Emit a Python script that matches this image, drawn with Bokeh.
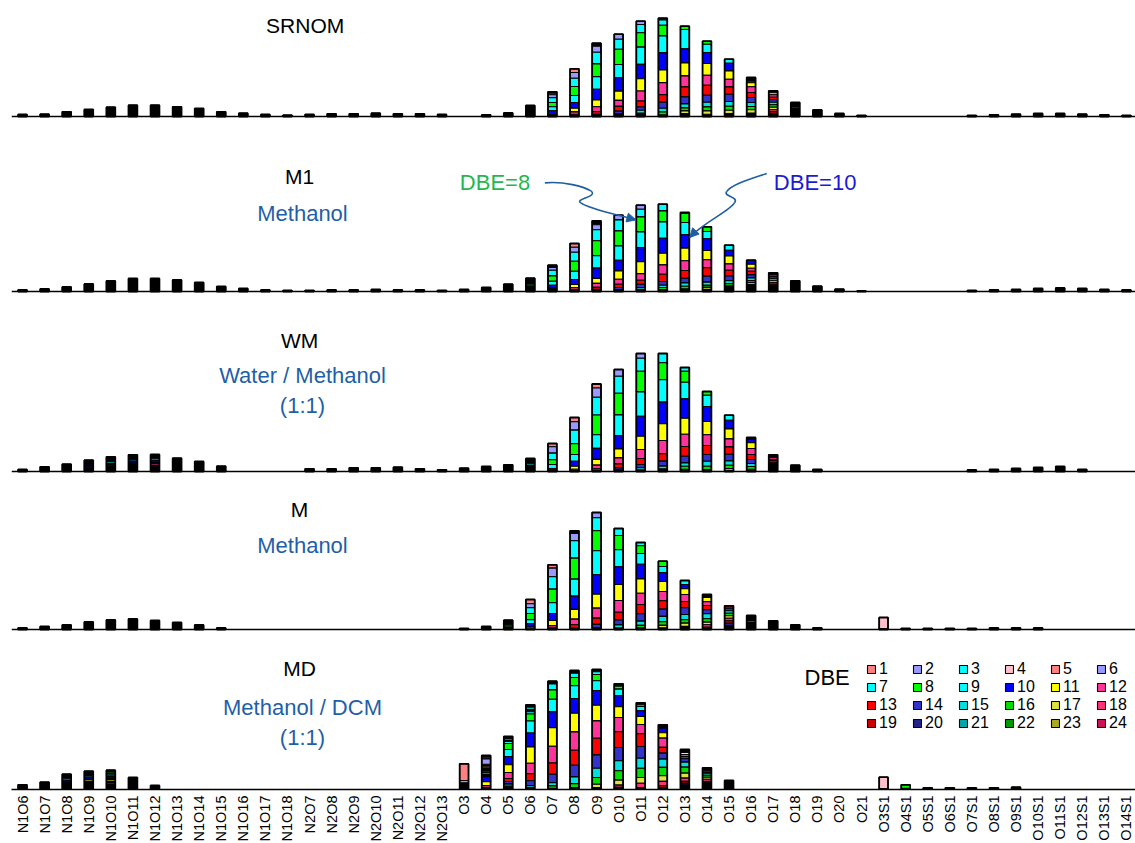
import math
from bokeh.plotting import figure
from bokeh.models import (Range1d, ColumnDataSource, Label, Span, FixedTicker,
                          Legend, LegendItem, Arrow, NormalHead)
from bokeh.layouts import column
from bokeh.embed import file_html
from bokeh.resources import INLINE

# ---------------- data ----------------
CATEGORIES = ["N1O6", "N1O7", "N1O8", "N1O9", "N1O10", "N1O11", "N1O12", "N1O13", "N1O14",
              "N1O15", "N1O16", "N1O17", "N1O18",
              "N2O7", "N2O8", "N2O9", "N2O10", "N2O11", "N2O12", "N2O13",
              "O3", "O4", "O5", "O6", "O7", "O8", "O9", "O10", "O11", "O12", "O13", "O14",
              "O15", "O16", "O17", "O18", "O19", "O20", "O21",
              "O3S1", "O4S1", "O5S1", "O6S1", "O7S1", "O8S1", "O9S1", "O10S1", "O11S1",
              "O12S1", "O13S1", "O14S1"]

# DBE class colours (0 = minor / unresolved classes, drawn black)
DBE_COLORS = {0: "#000000",
              1: "#ff8080", 2: "#9999ff", 3: "#00ffff", 4: "#ffc0cb", 5: "#ff8080", 6: "#9999ff",
              7: "#00ffff", 8: "#00ff00", 9: "#00ffff", 10: "#0000ff", 11: "#ffff00", 12: "#ff3399",
              13: "#ff0000", 14: "#3333cc", 15: "#00e0e0", 16: "#00dd00", 17: "#e0e040", 18: "#ff3377",
              19: "#cc0000", 20: "#222288", 21: "#00a8a8", 22: "#009900", 23: "#aaaa22", 24: "#cc1155"}

# total relative abundance per class (same order as CATEGORIES)
SRNOM_TOTAL = [2, 2.3, 4.7, 7, 9.3, 11.3, 11.3, 9.7, 8, 4.7, 3.3, 2, 1.3,
               2, 2.7, 2.7, 3.3, 2.7, 2.7, 2,
               0, 1.5, 3.5, 11, 24.7, 47.7, 73.3, 82.3, 95.3, 98.3, 90.3, 75.3, 57.3, 39, 25.7,
               14, 6.5, 3, 1,
               0, 0, 0, 0, 1, 1.7, 2.3, 3, 3, 2.3, 1.7, 1]
M1_TOTAL = [1.5, 2.5, 4.5, 7.5, 10.5, 13, 13, 11.5, 9, 5, 3, 1.5, 1,
            1, 1.5, 1.5, 2, 1.5, 1.5, 1,
            2, 4, 7.3, 13.3, 26.3, 48, 70.7, 76.3, 86.3, 87.3, 79, 64.7, 46.3, 31.3, 18.7,
            10.7, 5.3, 2.3, 0.5,
            0, 0, 0, 0, 1, 1.5, 2, 3, 3.5, 3, 2, 1.5]
WM_TOTAL = [2, 4.7, 7.3, 11.3, 14.7, 16.7, 17, 13.3, 10, 5.3, 0, 0, 0,
            2.7, 2.7, 3.7, 3.7, 4.3, 2.7, 1.7,
            3.3, 5, 6.7, 13, 28, 54, 87.5, 102, 118, 118, 104, 80, 56.3, 34, 16.7,
            6.3, 2, 0, 0,
            0, 0, 0, 0, 1.5, 2, 3, 4, 5, 2, 0, 0]
M_TOTAL = [1.5, 3, 4.5, 7.5, 9.5, 10.5, 9, 7, 4.5, 1.5, 0, 0, 0,
           0, 0, 0, 0, 0, 0, 0,
           1, 3, 9.3, 30, 64.7, 98.7, 117, 101, 87, 68.3, 49, 35, 23.7, 14, 8.7,
           4.7, 1.5, 0, 0,
           12, 1, 1, 1, 1, 1.5, 1.5, 1.5, 0, 0, 0, 0]
MD_TOTAL = [4.7, 7.3, 15.3, 18.3, 19.3, 12, 4, 0, 0, 0, 0, 0, 0,
            0, 0, 0, 0, 0, 0, 0,
            25.7, 34, 53, 84.7, 108.3, 119, 120, 105.7, 86.7, 64.7, 40, 21.7, 9, 0, 0,
            0, 0, 0, 0,
            12.3, 4.7, 1.7, 1.7, 1.7, 1.7, 2.3, 0, 0, 0, 0, 0]

# DBE composition (DBE, abundance), listed top -> bottom of each bar
SRNOM_DBE = {
    "O7": [(0, 1.5), (5, 1.5), (6, 3), (7, 4.7), (8, 4.3), (9, 4), (10, 3.7)],
    "O8": [(5, 3.7), (6, 5.7), (7, 8.3), (8, 9), (9, 7), (10, 5.7), (11, 3.7), (12, 2.3)],
    "O9": [(0, 3), (6, 6), (7, 11.7), (8, 12.7), (9, 12.7), (10, 10.7), (11, 6.7), (12, 5), (13, 2.7)],
    "O10": [(6, 5), (7, 10), (8, 15.3), (9, 13.3), (10, 13.3), (11, 9.3), (12, 6), (13, 4.7), (14, 2.7)],
    "O11": [(6, 3.3), (7, 8.3), (8, 14.3), (9, 17.3), (10, 14.3), (11, 12.3), (12, 10), (13, 6),
            (14, 3.3), (15, 2.7)],
    "O12": [(6, 1.7), (7, 5.3), (8, 10.7), (9, 16.7), (10, 17.3), (11, 12.7), (12, 12), (13, 7.7),
            (14, 6), (15, 3.7), (16, 2.7)],
    "O13": [(8, 3.3), (9, 19.4), (10, 14), (11, 13), (12, 11), (13, 10), (14, 7), (15, 4), (16, 3),
            (17, 2.7)],
    "O14": [(8, 3), (9, 8.3), (10, 11), (11, 11.7), (12, 10), (13, 10), (14, 7), (15, 4.7), (16, 4),
            (17, 3.3)],
    "O15": [(9, 4), (10, 7.7), (11, 8.3), (12, 7.7), (13, 7.3), (14, 7.3), (15, 4.7), (16, 4), (17, 3.3)],
    "O16": [(0, 3), (10, 2.3), (11, 4), (12, 5.7), (13, 5), (14, 5), (15, 4), (16, 3.3), (17, 3.3)],
    "O17": [(0, 2), (11, 2), (12, 2.5), (13, 2.5), (14, 2.5), (15, 2.5), (16, 2.5), (17, 2.5),
            (18, 2), (19, 2)],
    "O18": [(0, 4), (14, 1.5)],
}
M1_DBE = {
    "O6": [(0, 6), (8, 1.5)],
    "O7": [(0, 2.3), (6, 2.7), (7, 5.7), (8, 5.3), (9, 4), (10, 2.7)],
    "O8": [(5, 3.7), (6, 5), (7, 9), (8, 10), (9, 8.3), (10, 5), (11, 3.3), (12, 2)],
    "O9": [(0, 4), (6, 5), (7, 11), (8, 15), (9, 12.3), (10, 10.3), (11, 5), (12, 4), (13, 2)],
    "O10": [(6, 4.7), (7, 11), (8, 15), (9, 14.3), (10, 10.7), (11, 8.3), (12, 5), (13, 3.3), (14, 2)],
    "O11": [(6, 4), (7, 7.7), (8, 15), (9, 15.7), (10, 14), (11, 12), (12, 6.7), (13, 4), (14, 3.3),
            (15, 2)],
    "O12": [(7, 6.7), (8, 11), (9, 16.3), (10, 15), (11, 11.7), (12, 9.3), (13, 7.3), (14, 3.7),
            (15, 2.3), (16, 2)],
    "O13": [(0, 1), (8, 9), (9, 12.3), (10, 13.3), (11, 12.7), (12, 9.7), (13, 7.7), (14, 4.7),
            (15, 3.3), (16, 2.7)],
    "O14": [(8, 4.7), (9, 7.3), (10, 11.7), (11, 9.3), (12, 8), (13, 8.3), (14, 6), (15, 3.3),
            (16, 2), (17, 2)],
    "O15": [(9, 5), (10, 5.7), (11, 8), (12, 6.3), (13, 5.7), (14, 4.7), (15, 3), (16, 2.3)],
    "O16": [(10, 4), (11, 4), (12, 3), (13, 3.7), (14, 3), (15, 2.7), (16, 2), (17, 2)],
    "O17": [(0, 2), (13, 2), (14, 2), (15, 2), (17, 2), (19, 2)],
}
WM_DBE = {
    "N1O9": [(0, 6), (10, 1.5)],
    "N1O10": [(0, 4.7), (9, 1.5), (0, 1.5), (10, 1.5)],
    "N1O11": [(0, 5.3), (9, 1.5), (10, 1.5)],
    "N1O12": [(0, 4.3), (9, 1.5), (0, 0.5), (10, 1.5), (0, 1.7), (12, 1.5)],
    "O6": [(0, 4), (14, 1.5), (15, 1.5)],
    "O7": [(5, 3.3), (6, 6.3), (7, 6.7), (8, 4.7), (9, 4), (10, 1.7)],
    "O8": [(5, 4.3), (6, 8.3), (7, 13.7), (8, 10.7), (9, 6.7), (10, 5), (11, 3), (12, 1.3)],
    "O9": [(5, 4), (6, 9.3), (7, 17.7), (8, 19.7), (9, 13.7), (10, 11), (11, 5.7), (12, 3.7), (13, 1.7)],
    "O10": [(6, 6.7), (7, 17), (8, 21.7), (9, 20.7), (10, 13.3), (11, 9), (12, 6), (13, 4), (14, 2)],
    "O11": [(6, 4.7), (7, 13), (8, 20.7), (9, 24.3), (10, 20), (11, 13.3), (12, 9), (13, 6), (14, 3.3),
            (15, 2)],
    "O12": [(7, 9.3), (8, 17), (9, 22.3), (10, 21.7), (11, 16.7), (12, 13.3), (13, 7.3), (14, 5),
            (15, 2.7)],
    "O13": [(7, 3.7), (8, 11), (9, 16.7), (10, 19.3), (11, 16), (12, 12.3), (13, 9.7), (14, 6.7),
            (15, 3.3), (16, 3)],
    "O14": [(8, 3.7), (9, 11.3), (10, 15), (11, 13.3), (12, 10.7), (13, 9), (14, 6.7), (15, 5), (16, 3.3)],
    "O15": [(9, 5), (10, 8.7), (11, 10), (12, 8), (13, 7.3), (14, 6.7), (15, 4.3), (16, 3.3), (17, 1.7)],
    "O16": [(0, 2), (10, 3.3), (11, 5.7), (12, 6), (13, 5), (14, 4), (15, 3), (16, 2.7)],
    "O17": [(0, 3), (12, 2), (0, 1), (19, 2)],
}
M_DBE = {
    "O5": [(0, 5), (8, 1.5)],
    "O6": [(5, 4.3), (6, 4), (7, 5.7), (8, 6.3), (9, 4), (10, 3.3), (11, 1.7)],
    "O7": [(5, 3.3), (6, 8.7), (7, 12.3), (8, 13.7), (9, 10.7), (10, 7), (11, 5.3), (12, 2)],
    "O8": [(0, 2.7), (6, 7.3), (7, 17.3), (8, 21), (9, 17), (10, 13.3), (11, 9.7), (12, 5.7), (13, 3.3)],
    "O9": [(6, 5.3), (7, 13), (8, 20), (9, 24), (10, 19.3), (11, 14), (12, 10), (13, 6.3), (14, 3.3)],
    "O10": [(7, 7), (8, 14.3), (9, 17), (10, 17.7), (11, 16), (12, 11.7), (13, 7.7), (14, 5), (15, 3)],
    "O11": [(7, 3.3), (8, 7.7), (9, 10.7), (10, 14.7), (11, 14.3), (12, 11.3), (13, 9.3), (14, 7.3),
            (15, 4.3), (16, 2.3)],
    "O12": [(8, 5.3), (9, 6), (10, 9), (11, 10), (12, 9.3), (13, 8.3), (14, 7.3), (15, 5.3), (16, 3.7),
            (17, 2.3)],
    "O13": [(9, 4), (10, 4.3), (11, 5.7), (12, 7), (13, 6.3), (14, 6.7), (15, 5.3), (16, 3.3), (17, 3.3)],
    "O14": [(0, 3), (11, 4.3), (12, 3.7), (13, 4.3), (14, 4), (15, 5), (16, 3.3), (17, 2.7), (18, 2.3)],
    "O15": [(13, 2.5), (14, 2.5), (15, 2.5), (16, 2.5), (17, 2.5), (18, 2.5), (19, 2.5), (20, 2.5)],
    "O16": [(0, 5), (16, 1.5)],
    "O3S1": [(4, 11)],
}
MD_DBE = {
    "N1O8": [(0, 4.5), (9, 1.5), (10, 1.5)],
    "N1O9": [(0, 5), (9, 1.5), (10, 1.5), (0, 0.8), (11, 1.5)],
    "N1O10": [(0, 1.7), (8, 1.5), (0, 0.8), (9, 1.5), (0, 0.8), (10, 1.5), (0, 1.5), (11, 1.5),
              (0, 2), (13, 1.5)],
    "O3": [(1, 16.7), (2, 2.3)],
    "O4": [(0, 1.7), (5, 1.7), (6, 5.3), (0, 2), (5, 1.7), (0, 3.3), (8, 1.7), (9, 1.7), (0, 2),
           (10, 5), (11, 4), (12, 2)],
    "O5": [(0, 2), (3, 1.5), (0, 1.5), (7, 2), (8, 6), (9, 7), (10, 8.3), (11, 7.7), (12, 6), (13, 3),
           (14, 2), (15, 1.5), (16, 1.5)],
    "O6": [(0, 2.3), (3, 2.3), (0, 2.3), (7, 2.3), (8, 7), (9, 12), (10, 14), (11, 16.3), (12, 10.3),
           (13, 7), (14, 5), (15, 2)],
    "O7": [(0, 2.7), (7, 6), (8, 9.3), (9, 12.7), (10, 15.7), (11, 18.7), (12, 16.7), (13, 11.3),
           (14, 8.3), (15, 3.3), (16, 2.3)],
    "O8": [(0, 2.7), (7, 4.3), (8, 8.3), (9, 12.7), (10, 14.7), (11, 18.7), (12, 18.3), (13, 15),
           (14, 11.7), (15, 6.7), (16, 4)],
    "O9": [(0, 2.3), (7, 2.7), (8, 6.3), (9, 9.7), (10, 14.7), (11, 15.7), (12, 17.3), (13, 16.7),
           (14, 13.3), (15, 9.3), (16, 6.7), (17, 3.3), (21, 1)],
    "O10": [(0, 2.3), (8, 3), (9, 6.7), (10, 11), (11, 10.7), (12, 14.3), (13, 15.7), (14, 13.3),
            (15, 10), (16, 9.3), (17, 5), (18, 2.3), (22, 1)],
    "O11": [(0, 2), (8, 1.7), (9, 4.3), (10, 5.7), (11, 8), (12, 9.3), (13, 12.7), (14, 11.7),
            (15, 10), (16, 9.3), (17, 5.7), (18, 4.3), (23, 1)],
    "O12": [(0, 3.3), (10, 4.7), (11, 5.3), (12, 9.3), (13, 5.7), (14, 6), (15, 8.3), (16, 8.3),
            (17, 5.7), (18, 4.3), (19, 2), (24, 1)],
    "O13": [(0, 3), (11, 2), (12, 2), (13, 2.3), (14, 3.3), (15, 5), (16, 6), (17, 5), (18, 3.3),
            (19, 2), (20, 1.5)],
    "O14": [(0, 3), (13, 1.5), (0, 1), (15, 2), (16, 2), (17, 2), (18, 2), (0, 1)],
    "O3S1": [(4, 11.3)],
    "O4S1": [(8, 3.5)],
}

# ---------------- styling ----------------
FONT = "Liberation Sans"
BLUE_TEXT = "#1f5fa8"
ARROW_C = "#1f5f9f"
BAR_W = 0.40
PX_PER_X = 22.08          # pixels per category (for arrow shapes only)

x_range = Range1d(-0.5, 50.41)


def build_segments(total, stacks):
    segs = {d: {"x": [], "bottom": [], "top": []} for d in range(25)}
    outline = {"x": [], "top": []}
    for i, cat in enumerate(CATEGORIES):
        t = total[i]
        st = stacks.get(cat, [])
        s = sum(h for _, h in st)
        if t <= 0 and s <= 0:
            continue
        rem = t - s
        y = 0.0
        if rem > 0.05:
            segs[0]["x"].append(i)
            segs[0]["bottom"].append(0.0)
            segs[0]["top"].append(rem)
            y = rem
        for d, h in reversed(st):
            segs[d]["x"].append(i)
            segs[d]["bottom"].append(y)
            segs[d]["top"].append(y + h)
            y += h
        outline["x"].append(i)
        outline["top"].append(y)
    return segs, outline


def make_panel(total, stacks, y0, y1, axis=False):
    p = figure(frame_width=1124, frame_height=int(round(y1 - y0)), x_range=x_range,
               y_range=Range1d(y0, y1), output_backend="svg", toolbar_location=None,
               min_border_left=11, min_border_right=0, min_border_top=0, min_border_bottom=0,
               x_axis_location="below" if axis else None, y_axis_location=None)
    p.outline_line_color = None
    p.xgrid.visible = False
    p.ygrid.visible = False
    p.background_fill_color = "white"
    p.border_fill_color = "white"
    segs, outline = build_segments(total, stacks)
    rends = {}
    for d in range(25):
        rends[d] = p.vbar(x="x", bottom="bottom", top="top", width=BAR_W,
                          source=ColumnDataSource(segs[d]), fill_color=DBE_COLORS[d],
                          line_color="black", line_width=1.1)
    p.vbar(x="x", top="top", bottom=0, width=BAR_W, source=ColumnDataSource(outline),
           fill_color=None, line_color="black", line_width=1.8)
    if axis:
        ax = p.xaxis[0]
        ax.ticker = FixedTicker(ticks=list(range(len(CATEGORIES))))
        ax.major_label_overrides = {i: c for i, c in enumerate(CATEGORIES)}
        ax.major_label_orientation = math.pi / 2
        ax.major_tick_line_color = None
        ax.minor_tick_line_color = None
        ax.major_tick_out = 0
        ax.major_tick_in = 0
        ax.axis_line_width = 1.6
        ax.axis_line_color = "black"
        ax.major_label_standoff = 6
        ax.major_label_text_font = FONT
        ax.major_label_text_font_size = "14.5px"
        ax.major_label_text_color = "black"
    else:
        p.add_layout(Span(location=0, dimension="width", line_color="black", line_width=1.6))
    return p, rends


def add_text(p, x, y, text, color="black", size="21px"):
    p.add_layout(Label(x=x, y=y, text=text, text_align="center", text_baseline="middle",
                       text_font=FONT, text_font_size=size, text_color=color))


p1, _ = make_panel(SRNOM_TOTAL, SRNOM_DBE, -2, 116)
add_text(p1, 12.8, 91, "SRNOM")

p2, _ = make_panel(M1_TOTAL, M1_DBE, -2, 173)
add_text(p2, 12.55, 115, "M1")
add_text(p2, 12.68, 78, "Methanol", BLUE_TEXT, "22px")

p3, _ = make_panel(WM_TOTAL, WM_DBE, -2, 178)
add_text(p3, 12.55, 131, "WM")
add_text(p3, 12.68, 96, "Water / Methanol", BLUE_TEXT, "22px")
add_text(p3, 12.68, 66, "(1:1)", BLUE_TEXT, "22px")

p4, _ = make_panel(M_TOTAL, M_DBE, -2, 156)
add_text(p4, 12.55, 120, "M")
add_text(p4, 12.68, 84, "Methanol", BLUE_TEXT, "22px")

p5, md_rends = make_panel(MD_TOTAL, MD_DBE, 0, 158, axis=True)
add_text(p5, 12.55, 121, "MD")
add_text(p5, 12.68, 82, "Methanol / DCM", BLUE_TEXT, "22px")
add_text(p5, 12.68, 52, "(1:1)", BLUE_TEXT, "22px")
p5.add_layout(Label(x=35.42, y=112, text="DBE", text_align="left", text_baseline="middle",
                    text_font=FONT, text_font_size="22px", text_color="black"))

legend = Legend(items=[LegendItem(label=str(d), renderers=[md_rends[d]]) for d in range(1, 25)],
                location=(855, 57), orientation="horizontal", ncols=6,
                glyph_width=10, glyph_height=10, label_standoff=3, spacing=0, padding=0, margin=0,
                label_width=33, label_height=18, label_text_font=FONT, label_text_font_size="16px",
                label_text_color="black", border_line_color=None, background_fill_alpha=0)
p5.add_layout(legend)


# ---- annotations in M1: arrows pointing to DBE=8 (O11) and DBE=10 (O13) segments ----
def seg_mid(stacks, total, cat, dbe, frac=0.3):
    st = stacks[cat]
    i = CATEGORIES.index(cat)
    y = max(total[i] - sum(h for _, h in st), 0)
    for d, h in reversed(st):
        if d == dbe:
            return y + h * (0.5 + frac)
        y += h
    return y


def curve(p, tip_x, tip_y, pts, color):
    # pts: list of (dx_px, dy_px) offsets from the arrow tip; cubic segments of 3 points each
    def c(pt):
        return tip_x + pt[0] / PX_PER_X, tip_y + pt[1]
    src = {"x0": [], "y0": [], "x1": [], "y1": [], "cx0": [], "cy0": [], "cx1": [], "cy1": []}
    start = pts[0]
    for k in range(1, len(pts), 3):
        a, b, e = pts[k], pts[k + 1], pts[k + 2]
        for key, val in (("x0", c(start)[0]), ("y0", c(start)[1]), ("cx0", c(a)[0]), ("cy0", c(a)[1]),
                         ("cx1", c(b)[0]), ("cy1", c(b)[1]), ("x1", c(e)[0]), ("y1", c(e)[1])):
            src[key].append(val)
        start = e
    p.bezier(x0="x0", y0="y0", x1="x1", y1="y1", cx0="cx0", cy0="cy0", cx1="cx1", cy1="cy1",
             source=ColumnDataSource(src), line_color=color, line_width=1.6)
    last_c = pts[-2]
    ln = math.hypot(last_c[0], last_c[1])
    sx = last_c[0] / ln * 6
    sy = last_c[1] / ln * 6
    p.add_layout(Arrow(end=NormalHead(size=9, fill_color=color, line_color=color),
                       x_start=tip_x + sx / PX_PER_X, y_start=tip_y + sy,
                       x_end=tip_x, y_end=tip_y, line_color=color, line_width=1.6))


t1x = CATEGORIES.index("O11") - 0.22
t1y = seg_mid(M1_DBE, M1_TOTAL, "O11", 8)
curve(p2, t1x, t1y, [(-91, 37), (-72, 39), (-52, 33), (-45, 29), (-37, 23), (-62, 21), (-55, 17),
                     (-47, 11), (-22, 6), (0, 0)], ARROW_C)
t2x = CATEGORIES.index("O13") + 0.22
t2y = seg_mid(M1_DBE, M1_TOTAL, "O13", 10)
curve(p2, t2x, t2y, [(77, 64), (59, 58), (42, 53), (37, 46), (33, 41), (49, 41), (45, 35),
                     (40, 26), (15, 16), (0, 0)], ARROW_C)
add_text(p2, 21.4, 109, "DBE=8", "#1fb850", "22px")
add_text(p2, 35.9, 109, "DBE=10", "#1a1ad6", "22px")

layout = column(p1, p2, p3, p4, p5, spacing=0)
open("out.html", "w").write(file_html(layout, INLINE))
